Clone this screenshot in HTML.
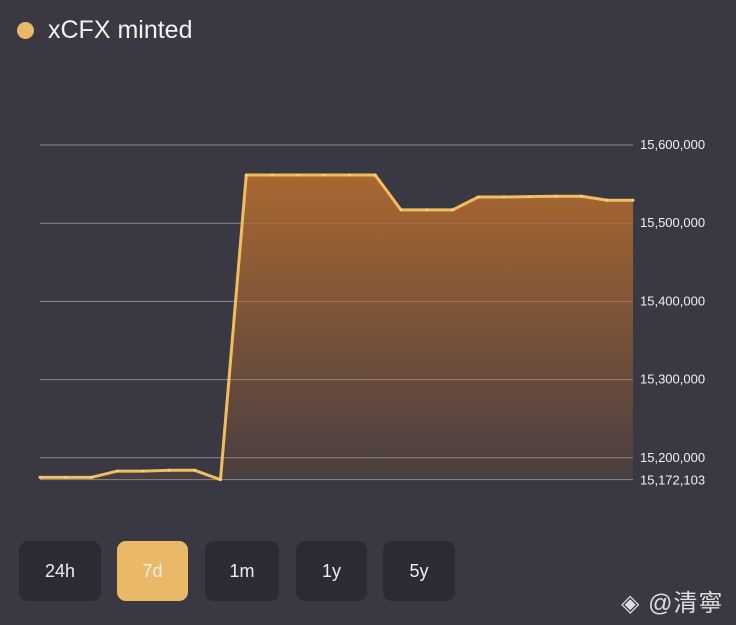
<!DOCTYPE html>
<html><head><meta charset="utf-8"><style>
body{margin:0;width:736px;height:625px;background:#3a3843;overflow:hidden;font-family:"Liberation Sans","Noto Sans CJK SC",sans-serif;position:relative}
.title{position:absolute;left:17px;top:16px;color:#f2f2f2;font-size:25px;display:flex;align-items:center}
.dot{width:17px;height:17px;border-radius:50%;background:#e9b968;margin-right:14px}
.btn{position:absolute;top:541px;height:60px;border-radius:9px;background:#2c2a34;color:#eee;font-size:18px;display:flex;align-items:center;justify-content:center}
.btn.on{background:#e9b968}
.wm{position:absolute;left:621px;top:583px;color:#ddd;font-size:24px;letter-spacing:1px}
svg{position:absolute;left:0;top:0}
</style></head><body>
<div class="title"><span class="dot"></span>xCFX minted</div>
<svg id="chart" width="736" height="520">
<defs><linearGradient id="g" x1="0" y1="0" x2="0" y2="1"><stop offset="0" stop-color="#b06a30" stop-opacity="0.95"/><stop offset="1" stop-color="#b06a30" stop-opacity="0.12"/></linearGradient></defs>
</svg>
<div class="btn" style="left:19px;width:82px">24h</div>
<div class="btn on" style="left:117px;width:71px">7d</div>
<div class="btn" style="left:205px;width:74px">1m</div>
<div class="btn" style="left:296px;width:71px">1y</div>
<div class="btn" style="left:383px;width:72px">5y</div>
<div class="wm">◈ @清寧</div>
<script>
const values=[15175000,15175000,15175000,15183000,15183000,15184000,15184000,15172103,15561600,15561600,15561600,15561600,15561600,15561600,15517000,15517000,15517000,15533500,15533500,15534000,15534500,15534500,15529300,15529300];
const ticks=[15600000,15500000,15400000,15300000,15200000];
const tickLabels=["15,600,000","15,500,000","15,400,000","15,300,000","15,200,000"];
const minValue=15172103, minLabel="15,172,103";
const NS="http://www.w3.org/2000/svg";
const svg=document.getElementById('chart');
const x0=40,x1=633;
const y=v=>145+(15600000-v)*78.2/100000;
const x=i=>x0+i*(x1-x0)/(values.length-1);
function mk(t,a){const e=document.createElementNS(NS,t);for(const k in a)e.setAttribute(k,a[k]);svg.appendChild(e);return e;}
ticks.forEach((t,i)=>{
 const l=mk('line',{x1:x0,x2:x1,y1:y(t),y2:y(t),stroke:'#8a8890','stroke-width':1});
 
 
 const tx=mk('text',{x:640,y:y(t)+4,fill:'#f0f0f0','font-size':13});
 tx.textContent=tickLabels[i];
 
 
});
const bl=mk('line',{x1:x0,x2:x1,y1:y(minValue),y2:y(minValue),stroke:'#8a8890','stroke-width':1});


const bt=mk('text',{x:640,y:y(minValue)+5,fill:'#f0f0f0','font-size':13});
bt.textContent=minLabel;


let pts=values.map((v,i)=>x(i)+','+y(v)).join(' ');
const area=mk('polygon',{points:x(0)+','+y(minValue)+' '+pts+' '+x(values.length-1)+','+y(minValue),fill:'url(#g)'});


const line=mk('polyline',{points:pts,fill:'none',stroke:'#f0be5c','stroke-width':3,'stroke-linejoin':'round'});


values.forEach((v,i)=>{
 const c=mk('circle',{cx:x(i),cy:y(v),r:1.5,fill:'#f6d08a'});
 
 
});
</script>
</body></html>
